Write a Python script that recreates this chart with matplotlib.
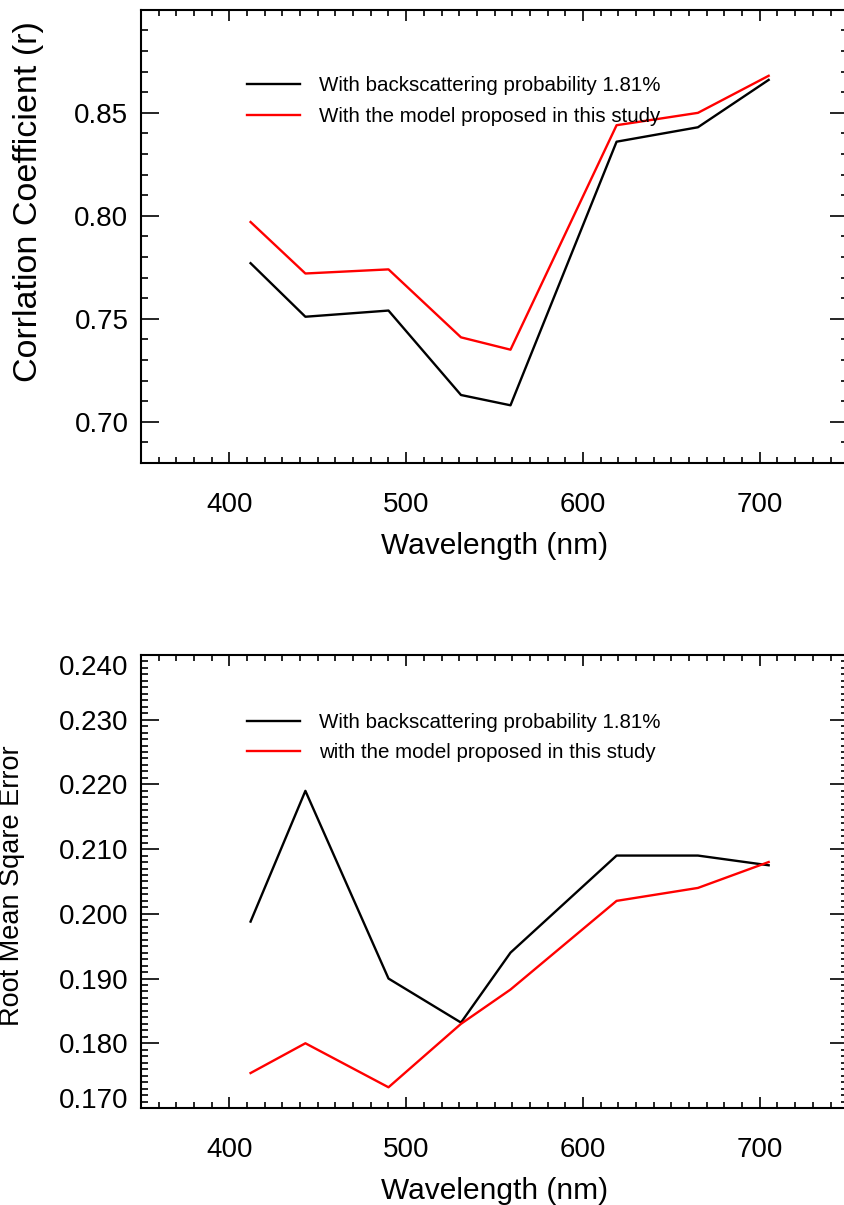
import matplotlib
matplotlib.use("Agg")
import matplotlib.pyplot as plt
import numpy as np
from matplotlib.ticker import MultipleLocator

plt.rcParams['font.family'] = ['Liberation Sans', 'DejaVu Sans']

# Wavelengths (nm)
wavelength = [412, 443, 490, 531, 559, 619, 665, 705]

# Correlation coefficient
r_backscatter = [0.777, 0.751, 0.754, 0.713, 0.708, 0.836, 0.843, 0.866]
r_model = [0.797, 0.772, 0.774, 0.741, 0.735, 0.844, 0.850, 0.868]

# RMSE
rmse_backscatter = [0.1988, 0.219, 0.190, 0.1832, 0.194, 0.209, 0.209, 0.2075]
rmse_model = [0.1754, 0.180, 0.1732, 0.183, 0.1883, 0.202, 0.204, 0.208]

label_bb = "With backscattering probability 1.81%"
label_top = "With the model proposed in this study"
label_bot = "with the model proposed in this study"

fig = plt.figure(figsize=(8.44, 12.05), dpi=100)
ax1 = fig.add_axes([0.167, 0.6158, 0.838, 0.376])
ax2 = fig.add_axes([0.167, 0.0805, 0.838, 0.376])


def style(ax, ymin, ymax, yticks, yminor, fmt):
    ax.set_xlim(350, 750)
    ax.set_ylim(ymin, ymax)
    ax.set_xticks([400, 500, 600, 700])
    ax.xaxis.set_minor_locator(MultipleLocator(10))
    ax.set_yticks(yticks)
    ax.set_yticklabels([fmt.format(v) for v in yticks])
    ax.yaxis.set_minor_locator(MultipleLocator(yminor))
    ax.tick_params(axis='both', which='both', direction='in', top=True, right=True,
                   width=1.2, labelsize=20)
    ax.tick_params(axis='x', which='major', length=8, pad=21)
    ax.tick_params(axis='x', which='minor', length=4)
    ax.tick_params(axis='y', which='major', length=13, pad=9)
    ax.tick_params(axis='y', which='minor', length=5)
    for s in ax.spines.values():
        s.set_linewidth(1.5)
    ax.set_xlabel("Wavelength (nm)", fontsize=21.5)
    ax.xaxis.set_label_coords(0.5, -0.152)


legend_kw = dict(loc='upper left', frameon=False, fontsize=14.8,
                 handlelength=2.6, handletextpad=0.9, labelspacing=0.55,
                 borderpad=0, borderaxespad=0)

ax1.plot(wavelength, r_backscatter, color='black', lw=1.7, label=label_bb)
ax1.plot(wavelength, r_model, color='red', lw=1.7, label=label_top)
style(ax1, 0.68, 0.90, [0.70, 0.75, 0.80, 0.85], 0.01, "{:.2f}")
ax1.set_ylabel("Corrlation Coefficient (r)", fontsize=24.5)
ax1.yaxis.set_label_coords(-0.159, 0.576)
ax1.yaxis.label.set_va('center')
ax1.legend(bbox_to_anchor=(0.15, 0.853), **legend_kw)

ax2.plot(wavelength, rmse_backscatter, color='black', lw=1.7, label=label_bb)
ax2.plot(wavelength, rmse_model, color='red', lw=1.7, label=label_bot)
style(ax2, 0.170, 0.240, list(np.round(np.arange(0.170, 0.2401, 0.01), 3)), 0.001, "{:.3f}")
ax2.set_ylabel("Root Mean Sqare Error", fontsize=19.5)
ax2.yaxis.set_label_coords(-0.183, 0.49)
ax2.yaxis.label.set_va('center')
ylabs = ax2.get_yticklabels()
ylabs[0].set_va('baseline')
ylabs[-1].set_va('top')
ax2.legend(bbox_to_anchor=(0.15, 0.872), **legend_kw)

fig.savefig("out.png", dpi=100)
plt.close(fig)
